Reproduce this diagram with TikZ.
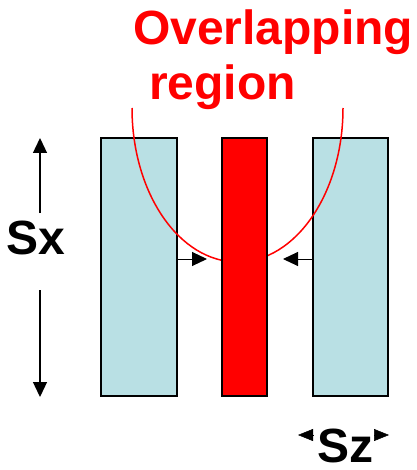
\documentclass[tikz,border=0pt]{standalone}
\usepackage{fontspec}
\setmainfont{Liberation Sans}
\usetikzlibrary{arrows.meta}
\definecolor{paleblue}{HTML}{B9E0E4}
\definecolor{pured}{HTML}{FF0000}
\begin{document}
\begin{tikzpicture}[x=1pt,y=-1pt,
  slab/.style={draw=black,line width=1.5pt,inner sep=0pt,outer sep=0pt,minimum height=258pt},
  lbl/.style={font=\fontsize{48}{55}\selectfont\bfseries,inner sep=0pt,anchor=base west},
  harrow/.style={line width=1pt,-{Triangle[length=15pt,width=14pt]}},
  varrow/.style={line width=1.3pt,-{Triangle[length=15pt,width=14pt]}},
  tinyarrow/.style={line width=0.5pt,-{Triangle[length=15pt,width=12pt]}}]
\useasboundingbox (0,0) rectangle (416,470);
% slabs
\node[slab,fill=paleblue,minimum width=76pt] (left) at (139,267) {};
\node[slab,fill=paleblue,minimum width=75pt] (right) at (350.5,267) {};
% overlap curve
\coordinate (cstart) at (132,108);
\draw[pured,line width=1.5pt] (cstart) arc[start angle=180,end angle=360,x radius=105.5pt,y radius=154pt];
\node[slab,fill=pured,minimum width=45pt] (mid) at (244.5,267) {};
% title
\node[lbl,text=pured] (t1) at (133,45) {Overlapping};
\node[lbl,text=pured] (t2) at (149,100) {region};
% horizontal arrows
\coordinate (la) at (left.east |- 0,259);
\coordinate (lt) at (207,259);
\coordinate (ra) at (right.west |- 0,259);
\coordinate (rt) at (283,259);
\draw[harrow] (la) -- (lt);
\draw[harrow] (ra) -- (rt);
% Sx
\node[lbl] (sx) at (6,254) {Sx};
\coordinate (sxu0) at (40,213);
\coordinate (sxu) at (40,138);
\coordinate (sxd0) at (40,290);
\coordinate (sxd) at (40,397);
\draw[varrow] (sxu0) -- (sxu);
\draw[varrow] (sxd0) -- (sxd);
% Sz
\node[lbl] (sz) at (317,462) {Sz};
\coordinate (szl0) at (313,435);
\coordinate (szl) at (298,435);
\coordinate (szr0) at (374,435);
\coordinate (szr) at (389,435);
\draw[tinyarrow] (szl0) -- (szl);
\draw[tinyarrow] (szr0) -- (szr);
\end{tikzpicture}
\end{document}
